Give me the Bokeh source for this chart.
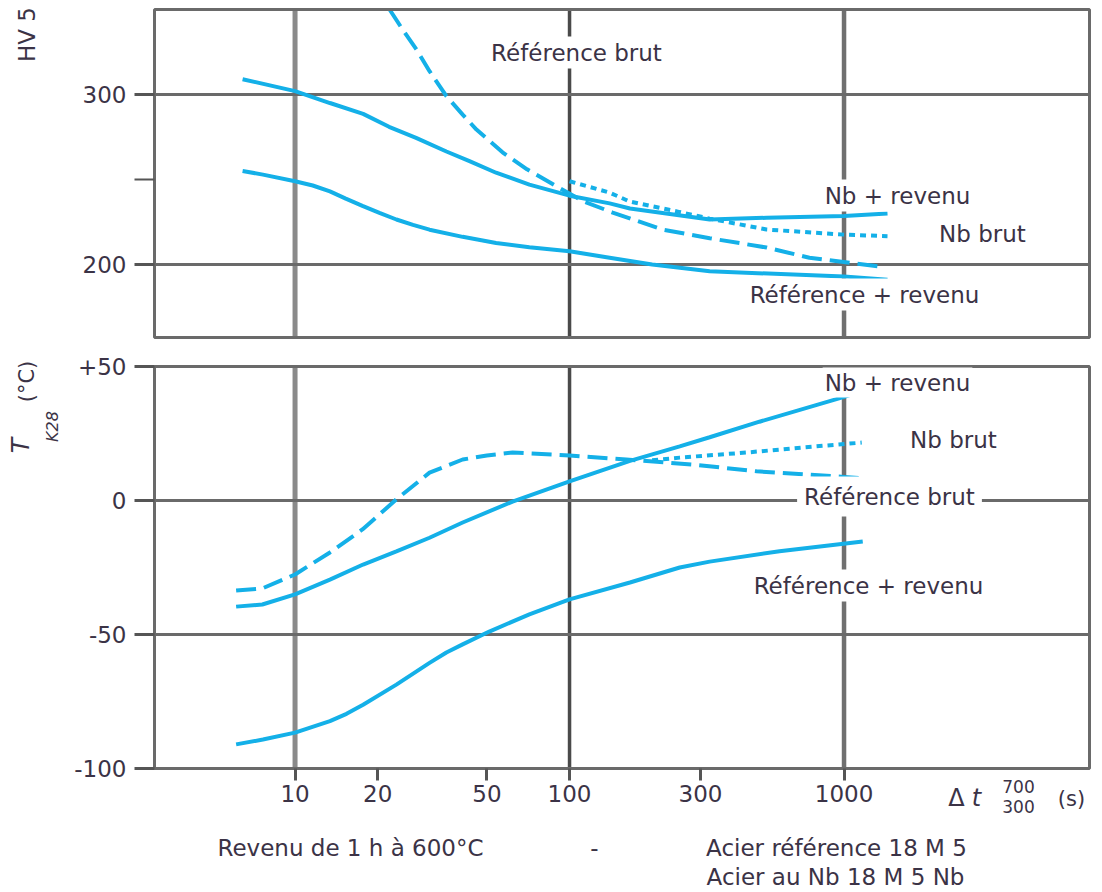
import math
from bokeh.plotting import figure
from bokeh.layouts import column
from bokeh.models import Range1d, FixedTicker, Label
from bokeh.embed import file_html
from bokeh.resources import INLINE

# ---------------- data ----------------
# Top panel: HV 5 hardness vs cooling time
hv_nb_rev_x = [6.44, 10, 13.4, 17.7, 22, 27.6, 35.6, 43.2, 54, 71.4, 100, 140, 166, 324, 522, 1000, 1440]
hv_nb_rev_y = [309, 302, 295, 288.6, 281, 274.5, 266.5, 260.8, 254, 247, 240.5, 236, 233, 226.5, 227.5, 228.5, 230]

hv_ref_rev_x = [6.44, 7.64, 10, 11.6, 13.4, 15.3, 17.6, 20.3, 23.4, 26.9, 30.9, 40.8, 54, 71.4, 100, 140, 200, 324, 1000, 1440]
hv_ref_rev_y = [255, 252.9, 249, 246.5, 243, 238.8, 234.5, 230.4, 226.5, 223.3, 220.5, 216.3, 212.7, 210.2, 207.8, 204, 200, 196, 193, 191]

hv_ref_brut_x = [22.1, 24.7, 27.7, 30.9, 35.6, 40.8, 45.8, 57, 70, 89.7, 111.7, 143.6, 218, 324, 522, 748, 1350]
hv_ref_brut_y = [350, 338, 326.5, 313.7, 299, 288.2, 279.4, 266, 256, 246, 237.3, 230.6, 220.6, 215.5, 210, 204, 198.8]

hv_nb_brut_x = [100, 140, 166, 250, 324, 522, 1000, 1440]
hv_nb_brut_y = [249, 242.3, 237, 231, 227, 220.6, 217.6, 216.7]

# Bottom panel: T K28 (degC) vs cooling time
tk_nb_rev_x = [6.1, 7.6, 10, 13.4, 17.7, 23.4, 30.9, 40.8, 62, 100, 166, 252, 324, 492, 1045]
tk_nb_rev_y = [-39.6, -38.8, -35, -29.5, -23.9, -19, -13.9, -8.2, -0.4, 7.1, 14.8, 20.2, 23.6, 29.4, 39.2]

tk_ref_rev_x = [6.1, 7.64, 10, 13.4, 15.4, 17.7, 23.4, 30.9, 35.6, 40.8, 51, 71.4, 100, 166, 252, 324, 582, 1170]
tk_ref_rev_y = [-91, -89.2, -86.6, -82.3, -79.6, -76.2, -68.7, -60.6, -56.7, -53.7, -48.9, -42.5, -36.9, -30.6, -25, -22.8, -18.9, -15.3]

tk_ref_brut_x = [6.1, 7.6, 10, 13.4, 17.6, 23.4, 30.9, 40.8, 50, 62, 100, 161, 281, 480, 1000, 1190]
tk_ref_brut_y = [-33.6, -32.8, -27.6, -19.4, -10.8, 0.4, 10.4, 15.3, 16.8, 17.9, 16.8, 15.3, 13.4, 10.9, 8.8, 8.2]

tk_nb_brut_x = [200, 252, 441, 767, 1160]
tk_nb_brut_y = [15, 16, 17.9, 20.1, 21.6]

x_ticks = [10, 20, 50, 100, 300, 1000]
x_tick_labels = ["10", "20", "50", "100", "300", "1000"]
x_grid = [10, 100, 1000]
hv_ticks = [200, 300]
hv_minor = [250]
tk_ticks = [-100, -50, 0, 50]
tk_tick_labels = ["-100", "-50", "0", "+50"]
tk_grid = [-50, 0]

# axis extents of the two panels
X0, X1 = 3.076, 7839.0
HV0, HV1 = 157.1, 350.0
TK0, TK1 = -100.0, 50.0

# ---------------- layout geometry (page pixels) ----------------
ORIGIN_X, ORIGIN_Y = 1, 1
CANVAS_W = 1100
PANEL_L, PANEL_R = 155, 1090
TOP_CANVAS = (ORIGIN_Y, 349)          # page top, height
TOP_PANEL = (10, 338)                 # page y of HV1 / HV0
BOT_CANVAS = (ORIGIN_Y + 349, 540)
BOT_PANEL = (367, 769)                # page y of TK1 / TK0

# ---------------- styling ----------------
CYAN = "#14b0e8"
GRID_COLORS = ["#8a8a8a", "#4a4a4a", "#707070"]
GRID_WIDTHS = [5, 3.5, 4.5]
FRAME = "#6a6a6a"
TICK = "#555555"
TXT = "#3b3346"
FONT = "DejaVu Sans"
LW = 4
FS = "23px"


def x_canvas_range():
    dec = (PANEL_R - PANEL_L) / math.log10(X1 / X0)
    left = X0 * 10 ** (-(PANEL_L - ORIGIN_X) / dec)
    right = X0 * 10 ** ((ORIGIN_X + CANVAS_W - PANEL_L) / dec)
    return left, right


def y_canvas_range(canvas, panel, v0, v1):
    ctop, ch = canvas
    ptop, pbot = panel
    k = (pbot - ptop) / (v1 - v0)
    return v0 - (ctop + ch - pbot) / k, v1 + (ptop - ctop) / k


xl, xr = x_canvas_range()
x_range = Range1d(xl, xr)


def make_fig(canvas, panel, v0, v1):
    y0, y1 = y_canvas_range(canvas, panel, v0, v1)
    p = figure(width=CANVAS_W, height=canvas[1], x_axis_type="log",
               x_range=x_range, y_range=Range1d(y0, y1),
               output_backend="svg", toolbar_location=None, min_border=0)
    p.background_fill_color = "white"
    p.border_fill_color = "white"
    p.outline_line_color = None
    p.grid.visible = False
    # vertical grid lines, from the grid tick list and the panel extent
    p.segment(x0=x_grid, y0=[v0] * len(x_grid), x1=x_grid, y1=[v1] * len(x_grid),
              line_color=GRID_COLORS, line_width=GRID_WIDTHS)
    return p


def hgrid(p, ticks):
    p.segment(x0=[X0] * len(ticks), y0=ticks, x1=[X1] * len(ticks), y1=ticks,
              line_color=FRAME, line_width=3)


def frame(p, v0, v1):
    p.quad(left=[X0], right=[X1], bottom=[v0], top=[v1], fill_color=None,
           line_color=FRAME, line_width=3)


def style_yaxis(p, v0, v1, ticks, minor):
    ya = p.yaxis[0]
    ya.fixed_location = X0
    ya.bounds = (v0, v1)
    ya.ticker = FixedTicker(ticks=ticks, minor_ticks=minor)
    ya.axis_line_color = None
    ya.major_tick_out = 20
    ya.major_tick_in = 0
    ya.minor_tick_out = 20
    ya.minor_tick_in = 0
    ya.major_tick_line_color = TICK
    ya.major_tick_line_width = 3
    ya.minor_tick_line_color = TICK
    ya.minor_tick_line_width = 2
    ya.major_label_standoff = 8
    ya.major_label_text_font = FONT
    ya.major_label_text_font_size = FS
    ya.major_label_text_color = TXT


def lab(p, canvas, text, px, py, size=FS, style="normal", angle=0.0,
        bg=False, pad=3):
    """Place a text centred at page pixel (px, py) inside figure p."""
    kw = {}
    if bg:
        kw = dict(background_fill_color="white", background_fill_alpha=1.0, padding=pad)
    ctop, ch = canvas
    p.add_layout(Label(x=px - ORIGIN_X, y=ctop + ch - py, x_units="screen", y_units="screen",
                       text=text, text_font=FONT, text_font_size=size,
                       text_font_style=style, text_color=TXT, text_align="center",
                       text_baseline="middle", angle=angle, **kw))


# ---------------- top panel ----------------
top = make_fig(TOP_CANVAS, TOP_PANEL, HV0, HV1)
hgrid(top, hv_ticks)
top.xaxis.visible = False
style_yaxis(top, HV0, HV1, hv_ticks, hv_minor)

top.line(hv_ref_brut_x, hv_ref_brut_y, line_color=CYAN, line_width=LW, line_dash="20 8")
top.line(hv_nb_brut_x, hv_nb_brut_y, line_color=CYAN, line_width=LW, line_dash="6 5")
top.line(hv_nb_rev_x, hv_nb_rev_y, line_color=CYAN, line_width=LW)
top.line(hv_ref_rev_x, hv_ref_rev_y, line_color=CYAN, line_width=LW)
frame(top, HV0, HV1)

lab(top, TOP_CANVAS, "Référence brut", 577, 53, bg=True)
lab(top, TOP_CANVAS, "Nb + revenu", 898, 196, bg=True)
lab(top, TOP_CANVAS, "Nb brut", 983, 234, bg=True)
lab(top, TOP_CANVAS, "Référence + revenu", 865, 295, bg=True)
lab(top, TOP_CANVAS, "HV 5", 27, 35, angle=math.pi / 2)

# ---------------- bottom panel ----------------
bot = make_fig(BOT_CANVAS, BOT_PANEL, TK0, TK1)
hgrid(bot, tk_grid)
style_yaxis(bot, TK0, TK1, tk_ticks, [])
bot.yaxis.major_label_overrides = dict(zip(tk_ticks, tk_tick_labels))

xa = bot.xaxis[0]
xa.fixed_location = TK0
xa.bounds = (X0, X1)
xa.ticker = FixedTicker(ticks=x_ticks, minor_ticks=[])
xa.major_label_overrides = dict(zip(x_ticks, x_tick_labels))
xa.axis_line_color = None
xa.major_tick_out = 12
xa.major_tick_in = 0
xa.major_tick_line_color = TICK
xa.major_tick_line_width = 3
xa.minor_tick_line_color = None
xa.major_label_standoff = 4
xa.major_label_text_font = FONT
xa.major_label_text_font_size = FS
xa.major_label_text_color = TXT

bot.line(tk_ref_brut_x, tk_ref_brut_y, line_color=CYAN, line_width=LW, line_dash="20 8")
bot.line(tk_nb_brut_x, tk_nb_brut_y, line_color=CYAN, line_width=LW, line_dash="6 5")
bot.line(tk_nb_rev_x, tk_nb_rev_y, line_color=CYAN, line_width=LW)
bot.line(tk_ref_rev_x, tk_ref_rev_y, line_color=CYAN, line_width=LW)
frame(bot, TK0, TK1)

lab(bot, BOT_CANVAS, "Nb + revenu", 898, 383, bg=True, pad=2)
lab(bot, BOT_CANVAS, "Nb brut", 954, 440, bg=True)
lab(bot, BOT_CANVAS, "Référence brut", 890, 497, bg=True, pad=7)
lab(bot, BOT_CANVAS, "Référence + revenu", 869, 586, bg=True)

# y title: T_K28 (°C), rotated
lab(bot, BOT_CANVAS, "T", 21, 446, size="25px", style="italic", angle=math.pi / 2)
lab(bot, BOT_CANVAS, "K28", 53, 427, size="16px", style="italic", angle=math.pi / 2)
lab(bot, BOT_CANVAS, "(°C)", 27, 382, size="21px", angle=math.pi / 2)

# x title: Δt 700/300 (s)
lab(bot, BOT_CANVAS, "Δ", 957, 798, size="24px")
lab(bot, BOT_CANVAS, "t", 977, 798, size="24px", style="italic")
lab(bot, BOT_CANVAS, "700", 1019, 787, size="17px")
lab(bot, BOT_CANVAS, "300", 1019, 807, size="17px")
lab(bot, BOT_CANVAS, "(s)", 1072, 799, size="21px")

# footnote
lab(bot, BOT_CANVAS, "Revenu de 1 h à 600°C", 351, 848)
lab(bot, BOT_CANVAS, "-", 595, 848)
lab(bot, BOT_CANVAS, "Acier référence 18 M 5", 837, 848)
lab(bot, BOT_CANVAS, "Acier au Nb 18 M 5 Nb", 836, 877)

layout = column(top, bot)
open("out.html", "w").write(file_html(layout, INLINE))
